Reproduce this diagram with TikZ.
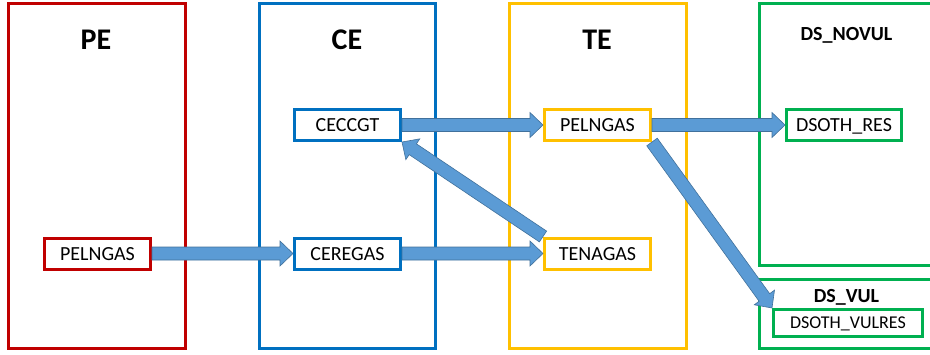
\documentclass[tikz,border=0pt]{standalone}
\usepackage{fontspec}
\setmainfont{Carlito}
\usetikzlibrary{calc}
\definecolor{peRed}{RGB}{192,0,0}
\definecolor{ceBlue}{RGB}{0,112,192}
\definecolor{teYellow}{RGB}{255,192,0}
\definecolor{dsGreen}{RGB}{0,176,80}
\definecolor{flowFill}{RGB}{91,155,213}
\definecolor{flowLine}{RGB}{65,113,156}
\tikzset{
  lane/.style={draw, line width=3pt, inner sep=0pt},
  title/.style={font=\fontsize{30}{32}\selectfont\bfseries, anchor=base, inner sep=0pt},
  subtitle/.style={font=\fontsize{20}{22}\selectfont\bfseries, anchor=base, inner sep=0pt},
  var/.style={draw, line width=3pt, fill=white, minimum width=106pt, minimum height=31pt, inner sep=0pt, text height=13pt, text depth=0pt, font=\fontsize{20}{22}\selectfont},
  flow/.style={draw=flowLine, fill=flowFill, line width=0.6pt, line join=miter}
}
% block arrow from one anchor to another
\newcommand{\flow}[2]{%
  \coordinate (fa) at (#1);
  \coordinate (fb) at (#2);
  \coordinate (fc) at ($(fb)!13pt!(fa)$);
  \path[flow] ($(fa)!6.5pt!90:(fb)$) -- ($(fc)!6.5pt!90:(fb)$) -- ($(fc)!12.5pt!90:(fb)$) -- (fb)
    -- ($(fc)!12.5pt!-90:(fb)$) -- ($(fc)!6.5pt!-90:(fb)$) -- ($(fa)!6.5pt!-90:(fb)$) -- cycle;}

\begin{document}
\begin{tikzpicture}[x=1pt,y=-1pt]
  \useasboundingbox (0,0) rectangle (930,354);

  \node[lane, draw=peRed, minimum width=176.5pt, minimum height=345pt] (pe) at (96.75,175.5) {};
  \node[lane, draw=ceBlue, minimum width=176pt, minimum height=345pt] (ce) at (347,175.5) {};
  \node[lane, draw=teYellow, minimum width=177pt, minimum height=345pt] (te) at (597.5,175.5) {};
  \node[lane, draw=dsGreen, minimum width=191pt, minimum height=262pt] (dsnovul) at (854.5,134) {};
  \node[lane, draw=dsGreen, minimum width=191pt, minimum height=68.5pt] (dsvul) at (854.5,313.75) {};

  \node[title] (petitle) at (96,49) {PE};
  \node[title] (cetitle) at (347,49) {CE};
  \node[title] (tetitle) at (597,49) {TE};
  \node[subtitle] (dsnovultitle) at (846.5,40) {DS\_NOVUL};
  \node[subtitle] (dsvultitle) at (846.5,302) {DS\_VUL};

  \node[var, draw=peRed] (pepelngas) at (97.5,253.5) {PELNGAS};
  \node[var, draw=ceBlue] (ceccgt) at (347.5,125) {CECCGT};
  \node[var, draw=ceBlue] (ceregas) at (347.5,253.5) {CEREGAS};
  \node[var, draw=teYellow] (tepelngas) at (597.5,125) {PELNGAS};
  \node[var, draw=teYellow] (tenagas) at (597.5,253.5) {TENAGAS};
  \node[var, draw=dsGreen, minimum width=115pt] (dsothres) at (844,125) {DSOTH\_RES};
  \node[var, draw=dsGreen, minimum width=149pt, minimum height=27pt, text height=11.6pt, font=\fontsize{18}{20}\selectfont] (dsothvulres) at (848,323) {DSOTH\_VULRES};

  \flow{pepelngas.east}{ceregas.west}
  \flow{ceregas.east}{tenagas.west}
  \flow{ceccgt.east}{tepelngas.west}
  \flow{tenagas.north west}{ceccgt.south east}
  \flow{tepelngas.east}{dsothres.west}
  \flow{tepelngas.south east}{dsothvulres.north west}
\end{tikzpicture}
\end{document}
